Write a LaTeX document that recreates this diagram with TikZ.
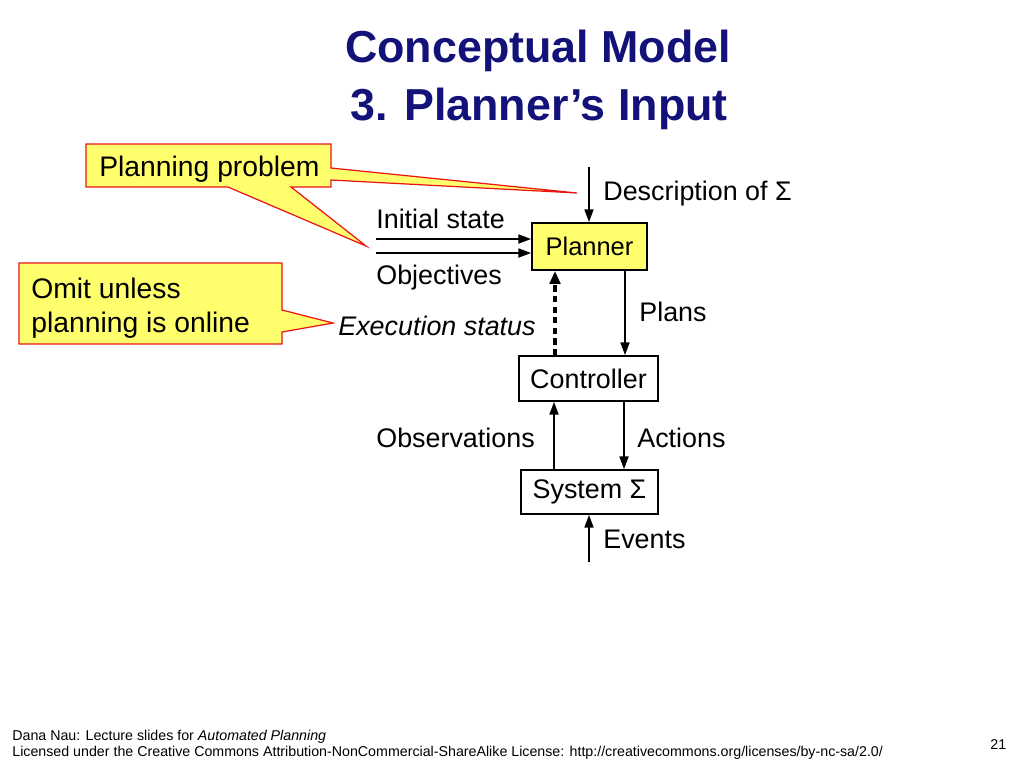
\documentclass[tikz,border=0pt]{standalone}
\usepackage{fontspec}
\setmainfont{Liberation Sans}
\usepackage{xcolor}
\usepackage{tikz}
\usetikzlibrary{arrows.meta}

\definecolor{titleblue}{RGB}{18,18,120}
\definecolor{noteyellow}{RGB}{255,255,110}
\definecolor{noteRed}{RGB}{235,20,20}

\tikzset{
  lbl/.style={inner sep=0pt, anchor=base west, font=\fontsize{15.3}{18}\selectfont},
  block/.style={draw=black, line width=1.1pt, inner sep=0pt, font=\fontsize{15.3}{18}\selectfont},
  note/.style={fill=noteyellow, draw=noteRed, line width=0.7pt, line join=miter},
  notetext/.style={inner sep=0pt, anchor=base west, font=\fontsize{16.1}{19.3}\selectfont},
  arr/.style={line width=0.75pt, -{Triangle[length=7.2pt, width=5.2pt]}},
  dasharr/.style={line width=2pt, dash pattern=on 3.6pt off 2.4pt, -{Triangle[length=7.4pt, width=6pt]}}
}

\begin{document}
\begin{tikzpicture}[x=0.02cm, y=-0.02cm]
  \fill[white] (0,0) rectangle (1024,768);
  \useasboundingbox (0,0) rectangle (1024,768);

  \node[inner sep=0pt, anchor=base, text=titleblue, font=\fontsize{25.5}{30}\selectfont\bfseries] (title1) at (538,62) {Conceptual Model};
  \node[inner sep=0pt, anchor=base, text=titleblue, font=\fontsize{25.5}{30}\selectfont\bfseries] (title2) at (539,120) {3. Planner’s Input};

  \fill[note] (86,144) -- (331,144) -- (331,168) -- (577,193) -- (331,180) -- (331,187)
    -- (291,187) -- (366,246) -- (228,187) -- (86,187) -- cycle;
  \node[notetext] (problem) at (99,176) {Planning problem};

  \fill[note] (19,263) -- (282,263) -- (282,310) -- (333,323) -- (282,332) -- (282,344)
    -- (19,344) -- cycle;
  \node[notetext] (omit1) at (31,298) {Omit unless};
  \node[notetext] (omit2) at (31,332) {planning is online};

  \node[block, fill=noteyellow, minimum width=2.3cm, minimum height=0.94cm, font=\fontsize{14.5}{17}\selectfont] (planner) at (589.5,246.5) {Planner};
  \node[block, minimum width=2.78cm, minimum height=0.9cm] (controller) at (588.5,378.5) {Controller};
  \node[block, minimum width=2.74cm, minimum height=0.88cm] (system) at (589.5,492) {System Σ};

  \node[lbl] (descr) at (603,200) {Description of Σ};
  \node[lbl] (initial) at (376,228) {Initial state};
  \node[lbl] (objectives) at (376,284) {Objectives};
  \node[lbl, font=\fontsize{15.3}{18}\selectfont\itshape] (status) at (338,335) {Execution status};
  \node[lbl] (plans) at (639,321) {Plans};
  \node[lbl] (observations) at (376,447) {Observations};
  \node[lbl] (actions) at (637,447) {Actions};
  \node[lbl] (events) at (603,548) {Events};

  \coordinate (descrin) at (589,167);
  \coordinate (initin) at (376,239);
  \coordinate (objin) at (376,253);
  \coordinate (eventin) at (589,562);

  \draw[arr] (descrin) -- (planner.north -| descrin);
  \draw[arr] (initin) -- (initin -| planner.west);
  \draw[arr] (objin) -- (objin -| planner.west);
  \draw[arr] (planner.south -| 625,0) -- (controller.north -| 625,0);
  \draw[dasharr] (controller.north -| 555,0) -- (planner.south -| 555,0);
  \draw[arr] (system.north -| 554,0) -- (controller.south -| 554,0);
  \draw[arr] (controller.south -| 624,0) -- (system.north -| 624,0);
  \draw[arr] (eventin) -- (system.south -| eventin);

  \node[inner sep=0pt, anchor=base west, font=\fontsize{8.1}{9.7}\selectfont] (credit) at (12,740) {Dana Nau: Lecture slides for \textit{Automated Planning}};
  \node[inner sep=0pt, anchor=base west, font=\fontsize{8.1}{9.7}\selectfont] (licence) at (12,756) {Licensed under the Creative Commons Attribution-NonCommercial-ShareAlike License: http://creativecommons.org/licenses/by-nc-sa/2.0/};
  \node[inner sep=0pt, anchor=base west, font=\fontsize{8.1}{9.7}\selectfont] (pagenum) at (990,749) {21};
\end{tikzpicture}
\end{document}
